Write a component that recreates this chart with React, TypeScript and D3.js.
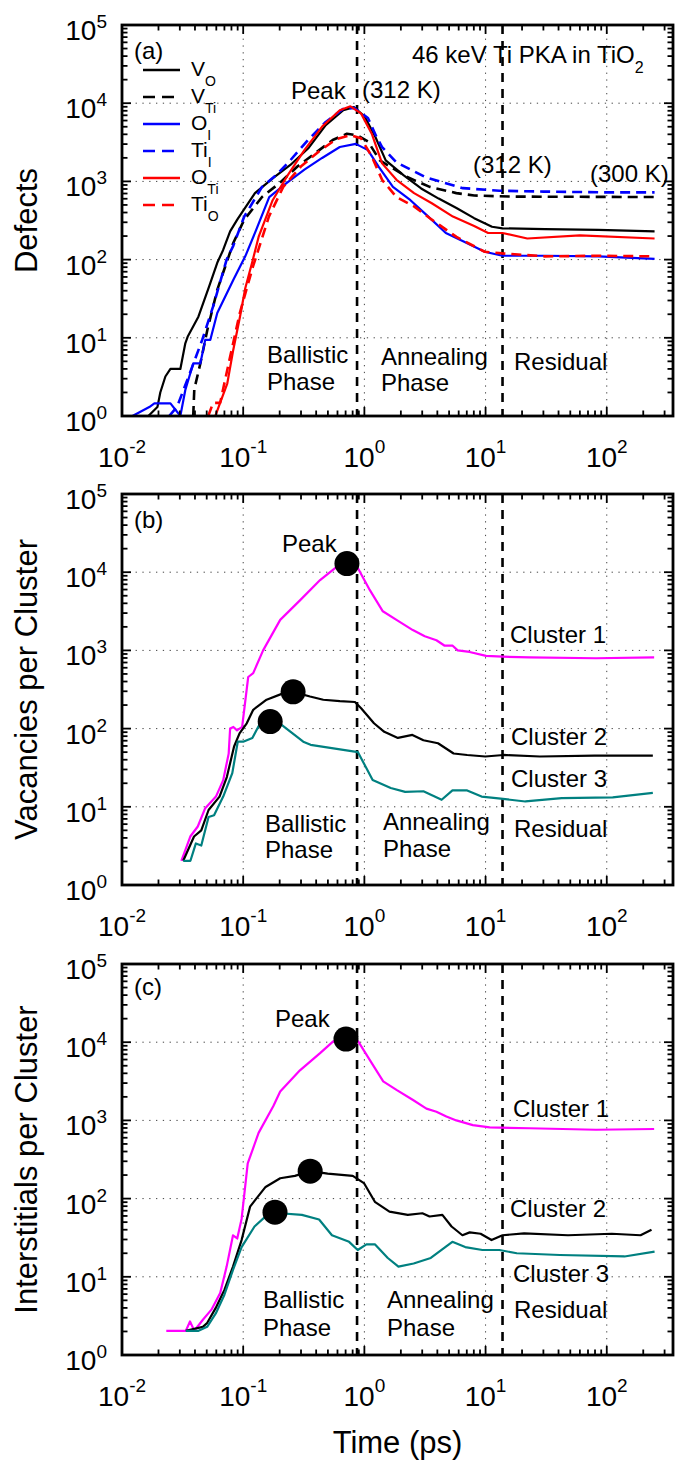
import React from 'react';
import * as d3 from 'd3';

const FONT = "'Liberation Sans', Arial, Helvetica, sans-serif";

// ---------- axes ----------
const xTickExps = [-2, -1, 0, 1, 2];
const yTickExps = [0, 1, 2, 3, 4, 5];
const xDomain: [number, number] = [0.01, 352];
const yDomain: [number, number] = [1, 1e5];
const phaseBoundaries = [0.87, 13.8];

// ---------- panel (a): defects vs time [t (ps), count] ----------
const vO: [number, number][] = [
  [0.0165, 1], [0.0196, 1.3], [0.0207, 2], [0.0228, 3.2], [0.0251, 4], [0.0303, 4], [0.0333, 8.5],
  [0.0348, 10.3], [0.0427, 18.6], [0.0522, 44.7], [0.0611, 91], [0.0682, 132], [0.078, 230],
  [0.0893, 324], [0.125, 708], [0.175, 1096], [0.245, 1622], [0.343, 2630], [0.48, 5250],
  [0.67, 8130], [0.82, 8900], [1.005, 6760], [1.23, 3720], [1.5, 1860], [2.1, 1200], [2.94, 813],
  [4.1, 603], [5.75, 457], [8.05, 339], [11.3, 263], [13.8, 251], [30.9, 245], [85, 240], [248, 229],
];
const vTi: [number, number][] = [
  [0.0387, 1], [0.0395, 2.2], [0.0443, 4.7], [0.0506, 12.6], [0.0611, 41], [0.0828, 163],
  [0.102, 324], [0.143, 631], [0.2, 955], [0.28, 1549], [0.392, 2290], [0.548, 3390],
  [0.718, 4070], [0.877, 3890], [1.07, 3240], [1.34, 1860], [2.22, 1150], [3.46, 851],
  [5.74, 708], [8.05, 660], [15.7, 640], [60, 635], [248, 631],
];
const oI: [number, number][] = [
  [0.0122, 1], [0.0168, 1.3], [0.0185, 1.45], [0.0251, 1.45], [0.0303, 1.0], [0.0333, 2.15],
  [0.0387, 4.7], [0.0443, 4.7], [0.0486, 9.4], [0.0535, 9.4], [0.0611, 20.8], [0.0828, 55],
  [0.104, 110], [0.128, 240], [0.164, 631], [0.229, 955], [0.32, 1413], [0.448, 1995],
  [0.627, 2750], [0.849, 3020], [1.07, 2510], [1.31, 1549], [1.72, 851], [2.4, 575],
  [3.37, 355], [4.7, 219], [6.59, 170], [9.84, 126], [13.8, 112], [30.9, 112], [85, 110], [248, 102],
];
const tiI: [number, number][] = [
  [0.0245, 1], [0.0284, 1.3], [0.0372, 3.9], [0.0459, 9.4], [0.0564, 25], [0.073, 100],
  [0.0828, 150], [0.102, 355], [0.143, 851], [0.187, 1202], [0.245, 1862], [0.343, 3390],
  [0.48, 5750], [0.67, 8510], [0.82, 8710], [1.07, 6460], [1.26, 3700], [1.4, 2750],
  [1.84, 1750], [3.2, 1130], [6.5, 820], [13, 760], [30, 741], [100, 724], [248, 724],
];
const oTi: [number, number][] = [
  [0.0589, 1], [0.0645, 1.47], [0.0739, 2.6], [0.0828, 7], [0.094, 18.5], [0.104, 43],
  [0.12, 99], [0.134, 195], [0.175, 575], [0.229, 1148], [0.32, 2512], [0.448, 5010],
  [0.627, 8130], [0.767, 9120], [0.938, 7410], [1.15, 4070], [1.4, 1700], [1.84, 1047],
  [2.57, 708], [3.6, 525], [5.38, 355], [8.05, 269], [10.5, 219], [13.8, 219], [22.1, 186],
  [60, 204], [248, 186],
];
const tiO: [number, number][] = [
  [0.0515, 1], [0.0564, 1.47], [0.0645, 1.47], [0.078, 5.7], [0.094, 21], [0.12, 80],
  [0.163, 355], [0.214, 851], [0.299, 1549], [0.419, 2400], [0.586, 3470], [0.767, 3890],
  [0.938, 3550], [1.15, 2090], [1.4, 1047], [1.84, 631], [2.57, 479], [3.6, 324], [5.75, 195],
  [9.84, 126], [13.8, 120], [30.9, 110], [85, 112], [248, 110],
];
const legendMain = ['V', 'V', 'O', 'Ti', 'O', 'Ti'];
const legendSub = ['O', 'Ti', 'I', 'I', 'Ti', 'O'];

// ---------- panel (b): vacancies per cluster ----------
const vacCluster1: [number, number][] = [
  [0.0309, 2.04], [0.0366, 4.17], [0.0422, 5.6], [0.0484, 9.5], [0.0596, 13.5], [0.0684, 21.9],
  [0.0759, 47.9], [0.078, 100], [0.083, 105], [0.089, 95], [0.098, 105], [0.11, 457], [0.121, 513],
  [0.146, 1000], [0.202, 2455], [0.294, 4365], [0.431, 7943], [0.594, 11750], [0.718, 12880],
  [0.885, 11220], [1.11, 5890], [1.42, 3162], [1.84, 2455], [2.51, 1820], [3.15, 1514],
  [3.93, 1349], [4.6, 1148], [5.35, 1148], [5.89, 1000], [7.38, 955], [10.1, 851], [13.8, 832],
  [23, 813], [81.5, 794], [246, 813],
];
const vacCluster2: [number, number][] = [
  [0.032, 2.04], [0.0393, 4.17], [0.0451, 5.0], [0.0518, 9.1], [0.0638, 13.5], [0.0733, 24],
  [0.0841, 59], [0.0933, 87], [0.107, 117], [0.121, 174], [0.156, 234], [0.213, 282], [0.258, 295],
  [0.356, 257], [0.458, 234], [0.628, 224], [0.836, 219], [0.94, 182], [1.2, 117], [1.46, 91],
  [1.89, 76], [2.49, 83], [3.07, 71], [4.05, 65], [5.45, 48], [7.05, 46], [9.95, 44], [14.1, 46],
  [28.1, 44], [79.3, 45], [240, 45],
];
const vacCluster3: [number, number][] = [
  [0.032, 2.04], [0.0367, 2.04], [0.0407, 3.4], [0.0451, 3.2], [0.0518, 7.4], [0.0575, 7.8],
  [0.0684, 13.5], [0.0813, 27], [0.0902, 68], [0.1, 68], [0.119, 76], [0.136, 112], [0.167, 123],
  [0.2, 117], [0.313, 68], [0.36, 62], [0.885, 50], [1.17, 22], [1.65, 17.4], [2.17, 15.5],
  [3.07, 15.8], [4.34, 12.3], [5.33, 16.2], [7.05, 16.2], [9.27, 13.5], [12.2, 12.9],
  [21.3, 11.7], [42.5, 12.9], [112, 13.2], [240, 15.1],
];
const vacPeaks: [number, number][] = [[0.718, 12880], [0.258, 295], [0.167, 123]];

// ---------- panel (c): interstitials per cluster ----------
const intCluster1: [number, number][] = [
  [0.0232, 2.03], [0.0336, 2.03], [0.0364, 2.69], [0.0395, 2.04], [0.0465, 2.82], [0.0547, 3.8],
  [0.0646, 6.2], [0.073, 13.5], [0.0824, 33.9], [0.0893, 30.9], [0.097, 55], [0.109, 282],
  [0.134, 692], [0.177, 1514], [0.202, 2344], [0.294, 4365], [0.431, 7244], [0.553, 10230],
  [0.705, 10960], [0.889, 10230], [1.11, 5890], [1.43, 3162], [1.84, 2455], [2.52, 1820],
  [3.25, 1413], [3.93, 1288], [4.75, 1122], [5.74, 1000], [7.85, 871], [10.8, 813], [23, 794],
  [81.5, 759], [246, 776],
];
const intCluster2: [number, number][] = [
  [0.0336, 2.04], [0.0465, 2.29], [0.0504, 2.57], [0.0594, 4.0], [0.07, 6.8], [0.0824, 13.5],
  [0.097, 29.5], [0.114, 79], [0.125, 95], [0.153, 141], [0.202, 182], [0.267, 195], [0.357, 224],
  [0.498, 209], [0.802, 195], [0.991, 158], [1.22, 91], [1.61, 68], [2.28, 62], [3.01, 65],
  [3.45, 59], [4.4, 62], [5.24, 44], [6.44, 34], [7.4, 37], [9.1, 35.5], [11.2, 29.5], [13.8, 34],
  [20.8, 36], [47.9, 34], [110, 35.5], [190, 34], [234, 40],
];
const intCluster3: [number, number][] = [
  [0.0336, 2.04], [0.0428, 2.04], [0.0504, 2.29], [0.0594, 3.4], [0.07, 5.9], [0.0824, 12.3],
  [0.097, 24], [0.124, 44], [0.158, 62], [0.202, 65], [0.305, 62], [0.423, 54], [0.54, 34],
  [0.748, 28], [0.881, 22], [1.04, 26], [1.22, 26], [1.56, 17.4], [1.91, 13.5], [2.55, 14.8],
  [3.53, 17.4], [5.32, 28], [6.79, 24], [9.42, 22], [13, 22], [18.1, 20], [41, 19], [140, 18.2],
  [248, 21],
];
const intPeaks: [number, number][] = [[0.705, 10960], [0.357, 224], [0.183, 67]];

const clusterColors = ['#ff00ff', '#000000', '#008080'];

type Series = { data: [number, number][]; color: string; dashed?: boolean };
type Label = { text: string; x: number; y: number; sub?: string };

const X0 = 122;
const X1 = 673;

function SupText({ x, y, base, exp, anchor, fs, efs, dy }: any) {
  return (
    <text x={x} y={y} textAnchor={anchor} fontSize={fs} fontFamily={FONT} fill="#000">
      {base}
      <tspan dy={dy} fontSize={efs}>{exp}</tspan>
    </text>
  );
}

function Panel({ id, top, bottom, series, labels, peaks, ylabel, legend }: {
  id: string; top: number; bottom: number; series: Series[]; labels: Label[];
  peaks?: [number, number][]; ylabel: string; legend?: boolean;
}) {
  const x = d3.scaleLog().domain(xDomain).range([X0, X1]);
  const y = d3.scaleLog().domain(yDomain).range([bottom, top]);
  const line = d3.line<[number, number]>().x((d) => x(d[0])).y((d) => y(d[1]));

  const xMinor: number[] = [];
  for (let e = -2; e <= 2; e++) for (let m = 2; m <= 9; m++) {
    const v = m * Math.pow(10, e);
    if (v < xDomain[1]) xMinor.push(v);
  }
  const yMinor: number[] = [];
  for (let e = 0; e <= 4; e++) for (let m = 2; m <= 9; m++) yMinor.push(m * Math.pow(10, e));

  const gridStyle = { stroke: '#444', strokeWidth: 1, strokeDasharray: '1.3,5.5' };
  const tickW = 1.8;
  const major = 9;
  const minor = 5.5;

  return (
    <g>
      <defs>
        <clipPath id={`clip-${id}`}>
          <rect x={X0} y={top} width={X1 - X0} height={bottom - top} />
        </clipPath>
      </defs>
      {/* grid */}
      {xTickExps.slice(1).map((e) => (
        <line key={`gx${e}`} x1={x(Math.pow(10, e))} x2={x(Math.pow(10, e))} y1={top} y2={bottom} {...gridStyle} />
      ))}
      {yTickExps.slice(1, -1).map((e) => (
        <line key={`gy${e}`} x1={X0} x2={X1} y1={y(Math.pow(10, e))} y2={y(Math.pow(10, e))} {...gridStyle} />
      ))}
      {/* phase boundaries */}
      {phaseBoundaries.map((t) => (
        <line key={`pb${t}`} x1={x(t)} x2={x(t)} y1={top} y2={bottom} stroke="#000" strokeWidth={2.6} strokeDasharray="9,7" />
      ))}
      {/* series */}
      <g clipPath={`url(#clip-${id})`}>
        {series.map((s, i) => (
          <path key={i} d={line(s.data) || ''} fill="none" stroke={s.color}
            strokeWidth={s.dashed ? 2.6 : 2.2} strokeDasharray={s.dashed ? '10,6' : undefined}
            strokeLinejoin="round" />
        ))}
      </g>
      {peaks && peaks.map((p, i) => (
        <circle key={`pk${i}`} cx={x(p[0])} cy={y(p[1])} r={12.5} fill="#000" />
      ))}
      {/* ticks */}
      {xTickExps.map((e) => {
        const px = x(Math.pow(10, e));
        return (
          <g key={`xt${e}`}>
            <line x1={px} x2={px} y1={bottom} y2={bottom - major} stroke="#000" strokeWidth={tickW} />
            <line x1={px} x2={px} y1={top} y2={top + major} stroke="#000" strokeWidth={tickW} />
            <SupText x={px} y={bottom + 51} base="10" exp={`${e}`} anchor="middle" fs={28} efs={19} dy={-14} />
          </g>
        );
      })}
      {xMinor.map((v) => (
        <g key={`xm${v}`}>
          <line x1={x(v)} x2={x(v)} y1={bottom} y2={bottom - minor} stroke="#000" strokeWidth={tickW} />
          <line x1={x(v)} x2={x(v)} y1={top} y2={top + minor} stroke="#000" strokeWidth={tickW} />
        </g>
      ))}
      {yTickExps.map((e) => {
        const py = y(Math.pow(10, e));
        return (
          <g key={`yt${e}`}>
            <line x1={X0} x2={X0 + major} y1={py} y2={py} stroke="#000" strokeWidth={tickW} />
            <line x1={X1} x2={X1 - major} y1={py} y2={py} stroke="#000" strokeWidth={tickW} />
            <SupText x={107} y={py + 15} base="10" exp={`${e}`} anchor="end" fs={28} efs={19} dy={-12} />
          </g>
        );
      })}
      {yMinor.map((v) => (
        <g key={`ym${v}`}>
          <line x1={X0} x2={X0 + minor} y1={y(v)} y2={y(v)} stroke="#000" strokeWidth={tickW} />
          <line x1={X1} x2={X1 - minor} y1={y(v)} y2={y(v)} stroke="#000" strokeWidth={tickW} />
        </g>
      ))}
      {/* frame */}
      <rect x={X0} y={top} width={X1 - X0} height={bottom - top} fill="none" stroke="#000" strokeWidth={2.8} />
      {/* y label */}
      <text transform={`translate(37,${(top + bottom) / 2}) rotate(-90)`} textAnchor="middle"
        fontSize={31} fontFamily={FONT} fill="#000">{ylabel}</text>
      {/* annotations */}
      {labels.map((l, i) => (
        <text key={`lb${i}`} x={l.x} y={l.y} fontSize={24} fontFamily={FONT} fill="#000">
          {l.text}
          {l.sub && <tspan dy={10} fontSize={16}>{l.sub}</tspan>}
        </text>
      ))}
      {legend && series.map((s, i) => {
        const ly = 70 + i * 27;
        return (
          <g key={`lg${i}`}>
            <line x1={143} x2={180} y1={ly} y2={ly} stroke={s.color} strokeWidth={2.6}
              strokeDasharray={s.dashed ? '12,7' : undefined} />
            <text x={191} y={ly + 6} fontSize={21} fontFamily={FONT} fill="#000">
              {legendMain[i]}
              <tspan dy={10} fontSize={14}>{legendSub[i]}</tspan>
            </text>
          </g>
        );
      })}
    </g>
  );
}

export default function App() {
  const seriesA: Series[] = [
    { data: vO, color: '#000000' },
    { data: vTi, color: '#000000', dashed: true },
    { data: oI, color: '#0000ff' },
    { data: tiI, color: '#0000ff', dashed: true },
    { data: oTi, color: '#ff0000' },
    { data: tiO, color: '#ff0000', dashed: true },
  ];
  const seriesB: Series[] = [vacCluster1, vacCluster2, vacCluster3].map((d, i) => ({ data: d, color: clusterColors[i] }));
  const seriesC: Series[] = [intCluster1, intCluster2, intCluster3].map((d, i) => ({ data: d, color: clusterColors[i] }));

  const labelsA: Label[] = [
    { text: '(a)', x: 134, y: 59 },
    { text: '46 keV Ti PKA in TiO', sub: '2', x: 412, y: 63 },
    { text: 'Peak', x: 291, y: 99 },
    { text: '(312 K)', x: 362, y: 98 },
    { text: '(312 K)', x: 473, y: 173 },
    { text: '(300 K)', x: 590, y: 182 },
    { text: 'Ballistic', x: 267, y: 363 },
    { text: 'Phase', x: 267, y: 390 },
    { text: 'Annealing', x: 381, y: 365 },
    { text: 'Phase', x: 381, y: 391 },
    { text: 'Residual', x: 514, y: 370 },
  ];
  const labelsB: Label[] = [
    { text: '(b)', x: 134, y: 528 },
    { text: 'Peak', x: 282, y: 552 },
    { text: 'Cluster 1', x: 510, y: 643 },
    { text: 'Cluster 2', x: 511, y: 745 },
    { text: 'Cluster 3', x: 511, y: 787 },
    { text: 'Ballistic', x: 265, y: 832 },
    { text: 'Phase', x: 265, y: 858 },
    { text: 'Annealing', x: 383, y: 830 },
    { text: 'Phase', x: 383, y: 857 },
    { text: 'Residual', x: 514, y: 837 },
  ];
  const labelsC: Label[] = [
    { text: '(c)', x: 134, y: 995 },
    { text: 'Peak', x: 275, y: 1027 },
    { text: 'Cluster 1', x: 513, y: 1117 },
    { text: 'Cluster 2', x: 510, y: 1217 },
    { text: 'Cluster 3', x: 513, y: 1282 },
    { text: 'Ballistic', x: 263, y: 1308 },
    { text: 'Phase', x: 263, y: 1336 },
    { text: 'Annealing', x: 387, y: 1308 },
    { text: 'Phase', x: 387, y: 1336 },
    { text: 'Residual', x: 514, y: 1318 },
  ];

  return (
    <svg width={676} height={1462} style={{ position: 'absolute', left: 0, top: 0, background: '#fff' }}>
      <rect x={0} y={0} width={676} height={1462} fill="#fff" />
      <Panel id="a" top={25} bottom={416} series={seriesA} labels={labelsA} ylabel="Defects" legend />
      <Panel id="b" top={494} bottom={885} series={seriesB} labels={labelsB} peaks={vacPeaks} ylabel="Vacancies per Cluster" />
      <Panel id="c" top={964} bottom={1355} series={seriesC} labels={labelsC} peaks={intPeaks} ylabel="Interstitials per Cluster" />
      <text x={(X0 + X1) / 2} y={1453} textAnchor="middle" fontSize={31} fontFamily={FONT} fill="#000">Time (ps)</text>
    </svg>
  );
}
